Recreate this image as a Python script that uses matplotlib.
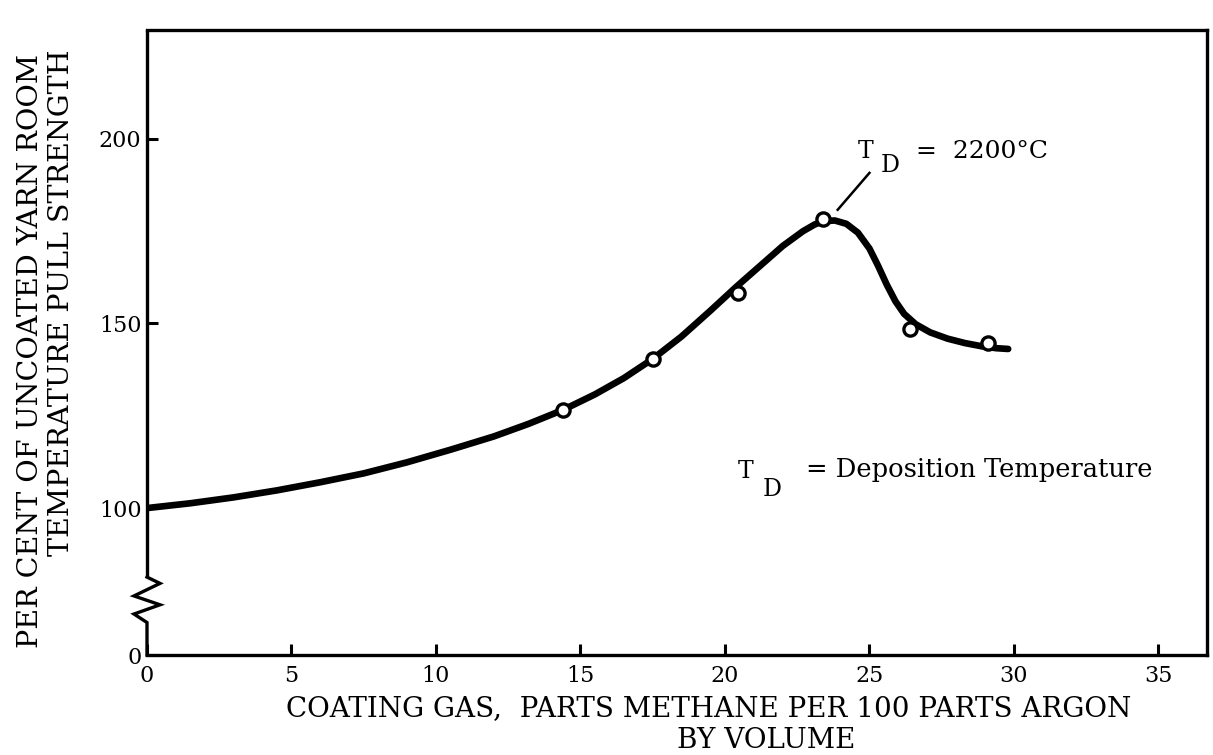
import matplotlib
matplotlib.use("Agg")
import matplotlib.pyplot as plt

# Measured yarn strength (per cent of uncoated yarn) vs methane content
methane_pts = [14.4, 17.5, 20.45, 23.4, 26.4, 29.1]
strength_pts = [126.6, 140.4, 158.3, 178.3, 148.5, 144.7]

# Faired trend curve drawn through the data
curve_x = [0, 1.5, 3, 4.5, 6, 7.5, 9, 10.5, 12, 13.2, 14.4, 15.5, 16.5, 17.5,
           18.5, 19.5, 20.4, 21.2, 22.0, 22.7, 23.1, 23.4, 23.8, 24.2, 24.6,
           25.0, 25.3, 25.6, 25.9, 26.2, 26.6, 27.1, 27.7, 28.3, 28.9, 29.4, 29.8]
curve_y = [100, 101.3, 102.9, 104.8, 107, 109.4, 112.4, 115.8, 119.4, 122.8,
           126.6, 130.8, 135.2, 140.4, 146.5, 153.5, 160, 165.5, 171, 175,
           176.8, 177.7, 177.9, 177.0, 174.6, 170.3, 165.6, 160.5, 156.0, 152.6,
           149.8, 147.6, 145.9, 144.7, 143.8, 143.3, 143.1]

x_ticks = [0, 5, 10, 15, 20, 25, 30, 35]
x_tick_labels = ["0", "5", "10", "15", "20", "25", "30", "35"]
y_ticks = [60.2, 100, 150, 200]
y_tick_labels = ["0", "100", "150", "200"]

W, H = 1213, 755
fig = plt.figure(figsize=(W / 100, H / 100), dpi=100)
FONT = "DejaVu Serif"


def fx(px):
    return px / W


def fy(py):
    return 1 - py / H


ax = fig.add_axes([fx(147), fy(655), (1207 - 147) / W, (655 - 30) / H])
ax.set_xlim(0, 36.68)
ax.set_ylim(60.2, 229.5)

# frame: left spine drawn by hand so it can carry the axis-break zigzag
for side in ("top", "right", "bottom"):
    ax.spines[side].set_linewidth(2.4)
ax.spines["left"].set_visible(False)
lw_axis = 2.4
ax.plot([0, 0], [229.5, 81.3], color="black", lw=lw_axis, clip_on=False,
        solid_capstyle="butt")
ax.plot([0, 0.45, -0.45, 0.45, -0.45, 0, 0],
        [81.3, 79.6, 76.2, 73.8, 71.3, 69.0, 60.2],
        color="black", lw=lw_axis, clip_on=False, solid_joinstyle="miter")

ax.set_xticks(x_ticks)
ax.set_xticklabels(x_tick_labels, fontfamily=FONT, fontsize=16)
ax.set_yticks(y_ticks)
ax.set_yticklabels(y_tick_labels, fontfamily=FONT, fontsize=16)
ax.tick_params(axis="both", direction="in", length=8, width=2.2, color="black")
ax.tick_params(axis="x", pad=7)
ax.tick_params(axis="y", pad=4)

# trend curve and measured points
ax.plot(curve_x, curve_y, color="black", lw=4.8, solid_capstyle="round",
        solid_joinstyle="round", zorder=3)
ax.plot(methane_pts, strength_pts, linestyle="none", marker="o", ms=9.5,
        mfc="white", mec="black", mew=2.4, zorder=4)

# leader from the peak point to its label
ax.plot([23.9, 25.0], [180.8, 190.8], color="black", lw=1.8, zorder=3)

# annotations
fig.text(fx(866), fy(152), "T", fontfamily=FONT, fontsize=17, ha="center", va="center")
fig.text(fx(890), fy(166), "D", fontfamily=FONT, fontsize=17, ha="center", va="center")
fig.text(fx(916), fy(152), "=  2200°C", fontfamily=FONT, fontsize=18,
         ha="left", va="center")

fig.text(fx(746), fy(471), "T", fontfamily=FONT, fontsize=17, ha="center", va="center")
fig.text(fx(772), fy(489), "D", fontfamily=FONT, fontsize=17, ha="center", va="center")
fig.text(fx(806), fy(469), "= Deposition Temperature", fontfamily=FONT, fontsize=18.5,
         ha="left", va="center")

# axis titles
fig.text(fx(709), fy(709), "COATING GAS,  PARTS METHANE PER 100 PARTS ARGON",
         fontfamily=FONT, fontsize=20, ha="center", va="center")
fig.text(fx(766), fy(740), "BY VOLUME", fontfamily=FONT, fontsize=20,
         ha="center", va="center")
fig.text(fx(31), fy(351), "PER CENT OF UNCOATED YARN ROOM", fontfamily=FONT,
         fontsize=20.5, rotation=90, ha="center", va="center")
fig.text(fx(62), fy(303), "TEMPERATURE PULL STRENGTH", fontfamily=FONT,
         fontsize=20.5, rotation=90, ha="center", va="center")

fig.savefig("out.png", dpi=100, facecolor="white")
